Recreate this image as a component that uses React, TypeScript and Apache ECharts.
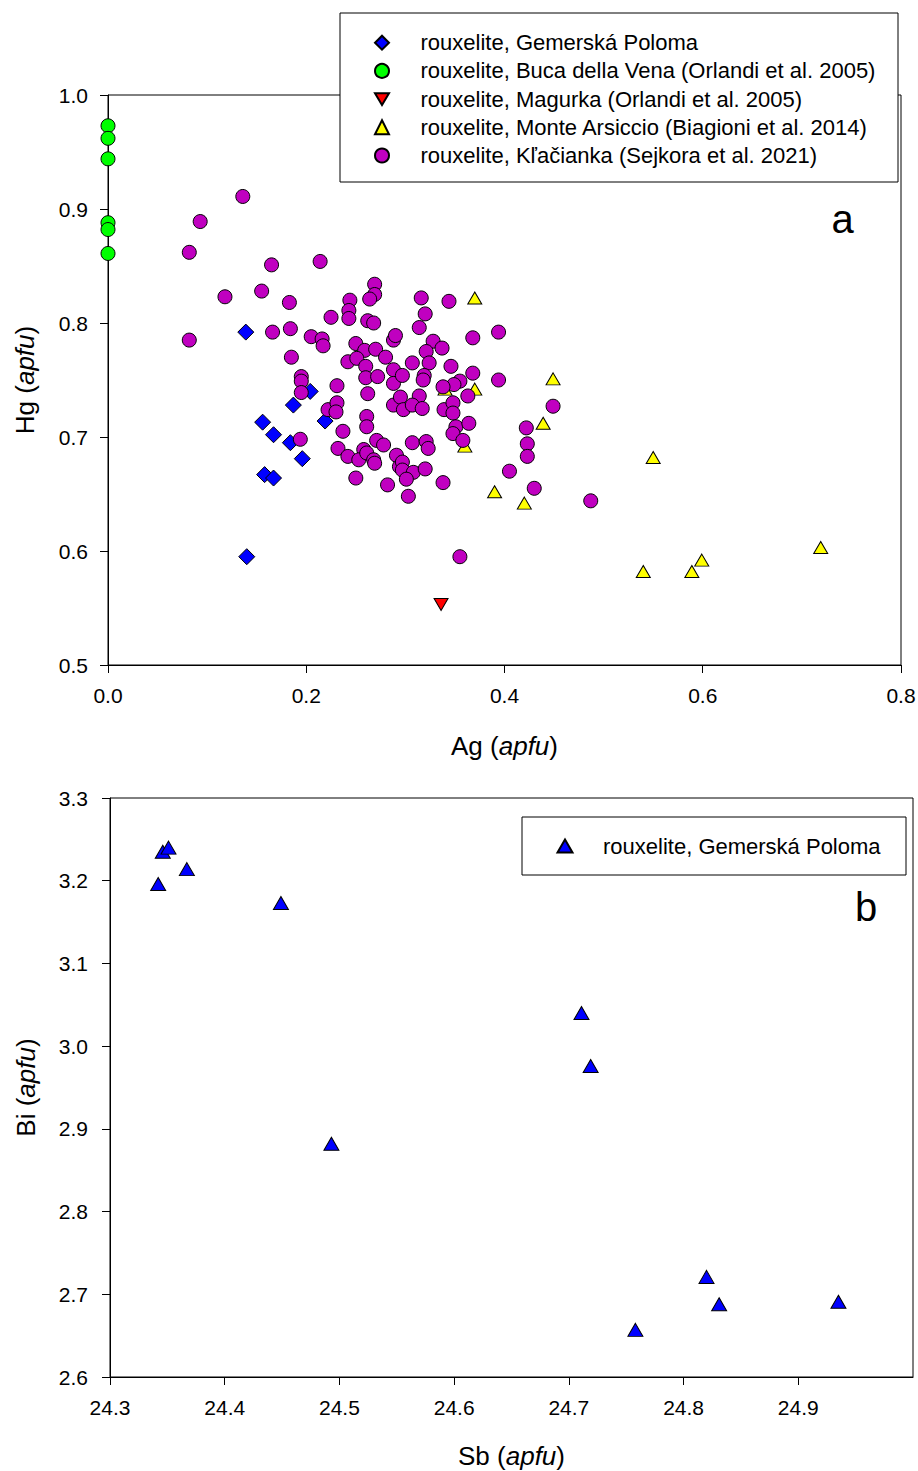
import React, { useEffect, useRef } from "react";
import * as echarts from "echarts";

const FONT = "'Liberation Sans', Arial, Helvetica, sans-serif";

// ---------- Chart a: Hg vs Ag ----------
const nameGemerska = "rouxelite, Gemerská Poloma";
const nameBuca = "rouxelite, Buca della Vena (Orlandi et al. 2005)";
const nameMagurka = "rouxelite, Magurka (Orlandi et al. 2005)";
const nameMonte = "rouxelite, Monte Arsiccio (Biagioni et al. 2014)";
const nameKlac = "rouxelite, Kľačianka (Sejkora et al. 2021)";

const gemerskaAgHg = [
  [0.139, 0.792], [0.187, 0.728], [0.204, 0.74], [0.156, 0.713], [0.167, 0.702],
  [0.184, 0.695], [0.196, 0.681], [0.158, 0.667], [0.167, 0.664], [0.14, 0.595],
  [0.219, 0.714],
];
const bucaAgHg = [[0, 0.973], [0, 0.962], [0, 0.944], [0, 0.888], [0, 0.882], [0, 0.861]];
const magurkaAgHg = [[0.336, 0.553]];
const monteAgHg = [
  [0.37, 0.822], [0.449, 0.751], [0.55, 0.682], [0.439, 0.712], [0.34, 0.742],
  [0.37, 0.742], [0.36, 0.692], [0.39, 0.652], [0.42, 0.642], [0.54, 0.582],
  [0.589, 0.582], [0.599, 0.592], [0.719, 0.603],
];
const klacAgHg = [
  [0.082, 0.862], [0.093, 0.889], [0.136, 0.911], [0.118, 0.823], [0.155, 0.828],
  [0.165, 0.851], [0.082, 0.785], [0.166, 0.792], [0.184, 0.795], [0.183, 0.818],
  [0.214, 0.854], [0.225, 0.805], [0.205, 0.788], [0.216, 0.786], [0.217, 0.78],
  [0.185, 0.77], [0.195, 0.753], [0.195, 0.749], [0.195, 0.739], [0.194, 0.698],
  [0.222, 0.724], [0.231, 0.745], [0.231, 0.73], [0.232, 0.69], [0.237, 0.705],
  [0.244, 0.82], [0.243, 0.811], [0.243, 0.804], [0.269, 0.834], [0.269, 0.825],
  [0.264, 0.821], [0.262, 0.802], [0.268, 0.8], [0.288, 0.785], [0.25, 0.782],
  [0.259, 0.776], [0.27, 0.777], [0.28, 0.77], [0.288, 0.759], [0.242, 0.766],
  [0.251, 0.769], [0.26, 0.762], [0.26, 0.752], [0.272, 0.753], [0.288, 0.747],
  [0.288, 0.728], [0.262, 0.738], [0.23, 0.722], [0.261, 0.718], [0.261, 0.709],
  [0.271, 0.697], [0.278, 0.693], [0.258, 0.689], [0.242, 0.683], [0.253, 0.68],
  [0.261, 0.686], [0.268, 0.68], [0.269, 0.677], [0.25, 0.664], [0.282, 0.658],
  [0.291, 0.684], [0.294, 0.674], [0.316, 0.822], [0.344, 0.819], [0.32, 0.808],
  [0.314, 0.796], [0.29, 0.789], [0.328, 0.784], [0.337, 0.778], [0.321, 0.775],
  [0.368, 0.787], [0.394, 0.792], [0.307, 0.765], [0.324, 0.765], [0.319, 0.754],
  [0.318, 0.75], [0.346, 0.762], [0.368, 0.756], [0.355, 0.749], [0.349, 0.746],
  [0.338, 0.744], [0.363, 0.736], [0.394, 0.75], [0.297, 0.754], [0.295, 0.735],
  [0.314, 0.736], [0.298, 0.724], [0.307, 0.728], [0.317, 0.725], [0.339, 0.724],
  [0.348, 0.73], [0.348, 0.721], [0.351, 0.709], [0.348, 0.703], [0.364, 0.712],
  [0.358, 0.697], [0.307, 0.695], [0.321, 0.696], [0.323, 0.69], [0.297, 0.678],
  [0.297, 0.671], [0.308, 0.669], [0.32, 0.672], [0.301, 0.663], [0.303, 0.648],
  [0.338, 0.66], [0.422, 0.708], [0.423, 0.694], [0.423, 0.683], [0.405, 0.67],
  [0.449, 0.727], [0.43, 0.655], [0.487, 0.644], [0.355, 0.595],
];
const agTicks = [0, 0.2, 0.4, 0.6, 0.8];
const hgTicks = [0.5, 0.6, 0.7, 0.8, 0.9, 1.0];

// ---------- Chart b: Bi vs Sb ----------
const gemerskaSbBi = [
  [24.342, 3.196], [24.346, 3.235], [24.351, 3.24], [24.367, 3.214], [24.449, 3.173],
  [24.493, 2.882], [24.711, 3.04], [24.719, 2.976], [24.758, 2.657], [24.82, 2.721],
  [24.831, 2.688], [24.935, 2.691],
];
const sbTicks = [24.3, 24.4, 24.5, 24.6, 24.7, 24.8, 24.9];
const biTicks = [2.6, 2.7, 2.8, 2.9, 3.0, 3.1, 3.2, 3.3];

const INV_TRIANGLE = "path://M0,0L20,0L10,17Z";

const titleStyle = (gap: number) => ({
  nameLocation: "middle" as const,
  nameGap: gap,
  nameTextStyle: {
    fontSize: 26,
    fontFamily: FONT,
    color: "#000",
    rich: { i: { fontSize: 26, fontFamily: FONT, fontStyle: "italic", color: "#000" } },
  },
});

const axisCommon = (margin: number) => ({
  type: "value" as const,
  axisLine: { show: true, onZero: false, lineStyle: { color: "#000", width: 1 } },
  axisTick: { show: true, inside: false, length: 8, lineStyle: { color: "#000", width: 1 } },
  axisLabel: {
    margin,
    fontSize: 21,
    fontFamily: FONT,
    color: "#000",
    showMinLabel: true,
    showMaxLabel: true,
    formatter: (v: number) => v.toFixed(1),
  },
  splitLine: { show: false },
});

const sym = (color: string) => ({ color, borderColor: "#000", borderWidth: 1, opacity: 1 });

export default function App() {
  const ref = useRef<HTMLDivElement>(null);
  useEffect(() => {
    if (!ref.current) return;
    const chart = echarts.init(ref.current, undefined, { renderer: "svg" });
    const legendRich = (spacer: number) => ({
      rich: {
        s: { width: spacer, lineHeight: 22, fontSize: 22 },
        t: { fontSize: 22, lineHeight: 22, fontFamily: FONT, color: "#000" },
      },
    });
    const option: any = {
      animation: false,
      backgroundColor: "#fff",
      grid: [
        { left: 108, top: 95, width: 793, height: 570, show: true, borderColor: "#000", borderWidth: 1, backgroundColor: "transparent", containLabel: false, outerBoundsMode: "none" },
        { left: 110, top: 798, width: 803, height: 579, show: true, borderColor: "#000", borderWidth: 1, backgroundColor: "transparent", containLabel: false, outerBoundsMode: "none" },
      ],
      xAxis: [
        {
          gridIndex: 0,
          ...axisCommon(20),
          min: agTicks[0],
          max: agTicks[agTicks.length - 1],
          interval: 0.2,
          name: "Ag ({i|apfu})",
          ...titleStyle(68),
        },
        {
          gridIndex: 1,
          ...axisCommon(20),
          min: 24.3,
          max: 25.0,
          interval: 0.1,
          axisTick: { show: true, inside: false, length: 8, lineStyle: { color: "#000", width: 1 }, customValues: sbTicks },
          axisLabel: {
            margin: 20, fontSize: 21, fontFamily: FONT, color: "#000",
            customValues: sbTicks,
            formatter: (v: number) => (v > 24.95 ? "" : v.toFixed(1)),
          },
          name: "Sb ({i|apfu})",
          ...titleStyle(66),
        },
      ],
      yAxis: [
        {
          gridIndex: 0,
          ...axisCommon(20),
          min: hgTicks[0],
          max: hgTicks[hgTicks.length - 1],
          interval: 0.1,
          name: "Hg ({i|apfu})",
          ...titleStyle(70),
        },
        {
          gridIndex: 1,
          ...axisCommon(22),
          min: biTicks[0],
          max: biTicks[biTicks.length - 1],
          interval: 0.1,
          name: "Bi ({i|apfu})",
          ...titleStyle(71),
        },
      ],
      legend: [
        {
          orient: "vertical",
          left: 374,
          top: 31.7,
          padding: 0,
          itemWidth: 14,
          itemHeight: 14,
          itemGap: 6.2,
          selectedMode: false,
          z: 5,
          data: [
            { name: nameGemerska, icon: "diamond" },
            { name: nameBuca, icon: "circle" },
            { name: nameMagurka, icon: INV_TRIANGLE },
            { name: nameMonte, icon: "triangle" },
            { name: nameKlac, icon: "circle" },
          ],
          formatter: (n: string) => `{s| }{t|${n}}`,
          textStyle: { fontSize: 22, fontFamily: FONT, color: "#000", ...legendRich(26.5) },
        },
        {
          orient: "vertical",
          left: 556.5,
          top: 835,
          padding: 0,
          itemWidth: 15,
          itemHeight: 13,
          selectedMode: false,
          z: 5,
          data: [{ name: nameGemerska, icon: "triangle" }],
          formatter: (n: string) => `{s| }{t|${n}}`,
          textStyle: { fontSize: 22, fontFamily: FONT, color: "#000", ...legendRich(25.5) },
        },
      ],
      graphic: [
        { type: "rect", z: 3, shape: { x: 340, y: 13, width: 558, height: 169 }, style: { fill: "#fff", stroke: "#000", lineWidth: 1 } },
        { type: "rect", z: 3, shape: { x: 522, y: 817, width: 384, height: 58 }, style: { fill: "#fff", stroke: "#000", lineWidth: 1 } },
        { type: "text", z: 5, x: 831.5, y: 219, style: { text: "a", fontSize: 40, fontFamily: FONT, fill: "#000", align: "left", verticalAlign: "middle" } },
        { type: "text", z: 5, x: 855, y: 907, style: { text: "b", fontSize: 40, fontFamily: FONT, fill: "#000", align: "left", verticalAlign: "middle" } },
      ],
      series: [
        { name: nameGemerska, type: "scatter", xAxisIndex: 0, yAxisIndex: 0, symbol: "diamond", symbolSize: 16, itemStyle: sym("#0000FF"), data: gemerskaAgHg, emphasis: { disabled: true } },
        { name: nameBuca, type: "scatter", xAxisIndex: 0, yAxisIndex: 0, symbol: "circle", symbolSize: 14, itemStyle: sym("#00FF00"), data: bucaAgHg, emphasis: { disabled: true } },
        { name: nameMagurka, type: "scatter", xAxisIndex: 0, yAxisIndex: 0, symbol: INV_TRIANGLE, symbolSize: [14, 12], itemStyle: sym("#FF0000"), data: magurkaAgHg, emphasis: { disabled: true } },
        { name: nameMonte, type: "scatter", xAxisIndex: 0, yAxisIndex: 0, symbol: "triangle", symbolSize: [14, 12], itemStyle: sym("#FFFF00"), data: monteAgHg, emphasis: { disabled: true } },
        { name: nameKlac, type: "scatter", xAxisIndex: 0, yAxisIndex: 0, symbol: "circle", symbolSize: 14, itemStyle: sym("#C000C0"), data: klacAgHg, emphasis: { disabled: true } },
        { name: nameGemerska, type: "scatter", xAxisIndex: 1, yAxisIndex: 1, symbol: "triangle", symbolSize: [15, 13], itemStyle: sym("#0000FF"), data: gemerskaSbBi, emphasis: { disabled: true } },
      ],
    };
    chart.setOption(option);
    return () => chart.dispose();
  }, []);
  return (
    <div
      ref={ref}
      style={{ position: "absolute", left: 0, top: 0, width: 918, height: 1471, background: "#fff" }}
    />
  );
}
